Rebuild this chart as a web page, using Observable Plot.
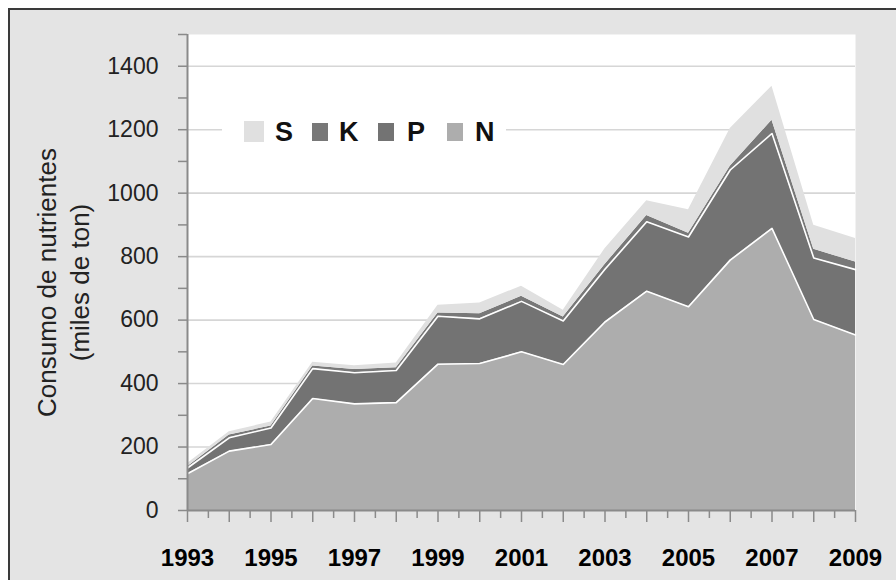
<!DOCTYPE html>
<html>
<head>
<meta charset="utf-8">
<script src="https://cdn.jsdelivr.net/npm/d3@7"></script>
<script src="https://cdn.jsdelivr.net/npm/@observablehq/plot@0.6"></script>
<style>
  html, body { margin: 0; padding: 0; background: #ffffff; }
  #wrap { position: relative; width: 896px; height: 580px; overflow: hidden; font-family: "Liberation Sans", Arial, sans-serif; }
  #box { position: absolute; left: 8px; top: 8px; width: 900px; height: 600px; background: #e4e4e4; border-left: 2px solid #3a3a3a; border-top: 2px solid #3a3a3a; }
  #chart { position: absolute; left: 0; top: 0; }
  #legend { position: absolute; left: 222px; top: 117px; width: 284px; height: 30px; background: #ffffff; }
  #legend .sw { position: absolute; }
  #legend .lb { position: absolute; top: 0px; font-weight: bold; font-size: 27px; line-height: 30px; color: #111; }
</style>
</head>
<body>
<div id="wrap">
  <div id="box"></div>
  <div id="chart"></div>
  <div id="legend"></div>
</div>
<script>
// ---- data ----
const years = [1993, 1994, 1995, 1996, 1997, 1998, 1999, 2000, 2001, 2002, 2003, 2004, 2005, 2006, 2007, 2008, 2009];
const N = [116, 187, 208, 353, 336, 340, 461, 463, 500, 460, 594, 691, 642, 789, 889, 602, 553];
const P = [18, 42, 52, 94, 98, 101, 151, 141, 159, 137, 166, 219, 220, 284, 299, 194, 206];
const K = [4, 9, 6, 8, 10, 9, 10, 16, 16, 13, 15, 20, 12, 12, 42, 27, 24];
const S = [10, 10, 13, 12, 12, 15, 25, 34, 32, 21, 50, 46, 74, 119, 107, 76, 74];
const seriesNames = ["N", "P", "K", "S"];
const legendOrder = ["S", "K", "P", "N"];
const seriesColors = ["#adadad", "#737373", "#787878", "#e0e0e0"];
const yTicks = [0, 100, 200, 300, 400, 500, 600, 700, 800, 900, 1000, 1100, 1200, 1300, 1400, 1500];
const yLabels = [0, 200, 400, 600, 800, 1000, 1200, 1400];
const xLabelYears = [1993, 1995, 1997, 1999, 2001, 2003, 2005, 2007, 2009];
const yTitle = "Consumo de nutrientes\n(miles de ton)";

const valuesBySeries = { N, P, K, S };
const data = [];
seriesNames.forEach(s => years.forEach((yr, i) => data.push({ year: yr, nutrient: s, value: valuesBySeries[s][i] })));
const dataNP = data.filter(d => d.nutrient === "N" || d.nutrient === "P");
const halfYears = years.slice(0, -1).map(y => y + 0.5);
const colorOf = Object.fromEntries(seriesNames.map((s, i) => [s, seriesColors[i]]));

const chart = Plot.plot({
  width: 896,
  height: 580,
  marginLeft: 187,
  marginRight: 41,
  marginTop: 34,
  marginBottom: 70,
  style: { background: "transparent", fontFamily: "'Liberation Sans', Arial, sans-serif", overflow: "visible" },
  x: { type: "linear", domain: [1993, 2009] },
  y: { domain: [0, 1500] },
  color: { domain: seriesNames, range: seriesColors },
  marks: [
    Plot.frame({ fill: "#ffffff", stroke: "none" }),
    Plot.ruleY(yLabels.filter(v => v > 0), { stroke: "#d6d6d6", strokeWidth: 1.6 }),
    Plot.areaY(data, { x: "year", y: "value", z: "nutrient", fill: "nutrient", order: seriesNames }),
    Plot.lineY(dataNP, Plot.stackY2({ x: "year", y: "value", z: "nutrient", order: ["N", "P"], stroke: "#ffffff", strokeWidth: 1.6 })),
    Plot.ruleX([1993], { stroke: "#8a8a8a", strokeWidth: 2 }),
    Plot.ruleY([0], { stroke: "#8a8a8a", strokeWidth: 2 }),
    Plot.axisY({ ticks: yTicks, tickSize: 9, tickPadding: 20, tickFormat: d => (yLabels.includes(d) ? String(d) : ""), fontSize: 23, stroke: "#8a8a8a", strokeWidth: 1.5, fill: "#222", label: null }),
    Plot.axisX({ ticks: years, tickSize: 12, tickFormat: () => "", stroke: "#8a8a8a", strokeWidth: 1.5, label: null }),
    Plot.axisX({ ticks: halfYears, tickSize: 8, tickFormat: () => "", stroke: "#8a8a8a", strokeWidth: 1.5, label: null }),
    Plot.axisX({ ticks: xLabelYears, tickSize: 0, tickPadding: 38, tickFormat: d => String(d), fontSize: 24, fontWeight: "bold", fill: "#000", label: null }),
    Plot.text([yTitle], { frameAnchor: "left", rotate: -90, dx: -126, dy: 10, fontSize: 26, lineHeight: 1.27, fill: "#222", textAnchor: "middle", lineAnchor: "middle" })
  ]
});
document.getElementById("chart").appendChild(chart);

// ---- legend ----
const legend = document.getElementById("legend");
const swLeft = { S: 22, K: 90, P: 156, N: 225 };
const lbLeft = { S: 53, K: 117, P: 185, N: 253 };
legendOrder.forEach(s => {
  const sw = document.createElement("div");
  sw.className = "sw";
  const big = s === "S";
  sw.style.left = swLeft[s] + "px";
  sw.style.top = (big ? 4 : 6) + "px";
  sw.style.width = (big ? 20 : 16) + "px";
  sw.style.height = (big ? 21 : 18) + "px";
  sw.style.background = colorOf[s];
  legend.appendChild(sw);
  const lb = document.createElement("div");
  lb.className = "lb";
  lb.style.left = lbLeft[s] + "px";
  lb.textContent = s;
  legend.appendChild(lb);
});
</script>
</body>
</html>
